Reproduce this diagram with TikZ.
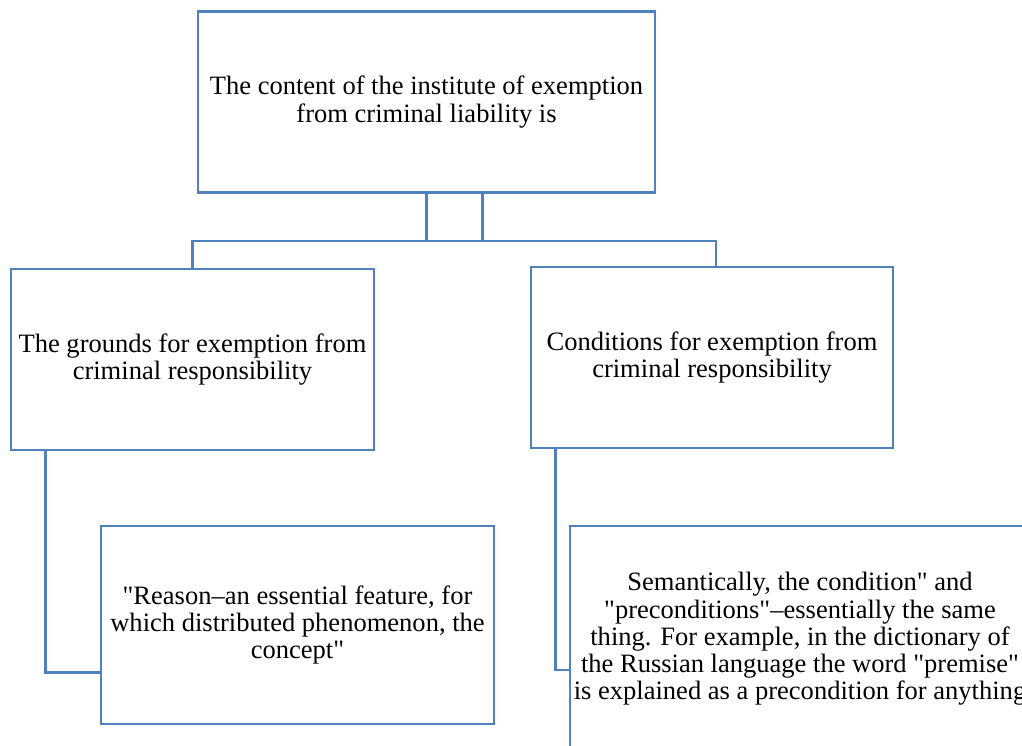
\documentclass[tikz,border=0pt]{standalone}
\usepackage{fontspec}
\setmainfont{Liberation Serif}
\usepackage{tikz}
\usetikzlibrary{calc}
\definecolor{framecolor}{RGB}{79,129,189}
\newcommand{\dq}{\textquotedbl}

\begin{document}
\begin{tikzpicture}[
  x=0.75pt, y=-0.75pt,
  box/.style={rectangle, draw=framecolor, line width=2pt, fill=white,
    align=center, inner sep=0pt, font=\fontsize{19.9}{20.4}\selectfont},
  link/.style={draw=framecolor, line width=2pt}
]
  \useasboundingbox (0,0) rectangle (1022,746);
  \clip (0,0) rectangle (1022,746);

  \node[box, minimum width=342.75pt, minimum height=135.75pt] (content) at (426.5,102)
    {The content of the institute of exemption\\from criminal liability is};
  \node[box, minimum width=272.25pt, minimum height=135.75pt] (grounds) at (192.5,359.5)
    {The grounds for exemption from\\criminal responsibility};
  \node[box, minimum width=271.5pt, minimum height=135.75pt] (conditions) at (712,357.5)
    {Conditions for exemption from\\criminal responsibility};
  \node[box, minimum width=294.75pt, minimum height=148.5pt] (reason) at (297.5,625)
    {\dq Reason–an essential feature, for\\which distributed phenomenon, the\\concept\dq};
  \node[box, minimum width=345pt, minimum height=169.5pt] (semantic) at (800,639)
    {Semantically, the condition\dq{} and\\\dq preconditions\dq–essentially the same\\thing. For example, in the dictionary of\\the Russian language the word \dq premise\dq\\is explained as a precondition for anything};

  \coordinate (bus) at (455,241);

  \draw[link] (content.south) -- (content.south |- bus);
  \draw[link] ($(content.south)+(56,0)$) -- ($(content.south |- bus)+(56,0)$);
  \draw[link] (grounds.north) |- (bus) -| ($(conditions.north)+(4,0)$);
  \draw[link] ($(grounds.south west)+(36,0)$) |- ($(reason.south west)+(0,-53)$);
  \draw[link] ($(conditions.south west)+(26,0)$) |- ($(semantic.west)+(0,31)$);
\end{tikzpicture}
\end{document}
